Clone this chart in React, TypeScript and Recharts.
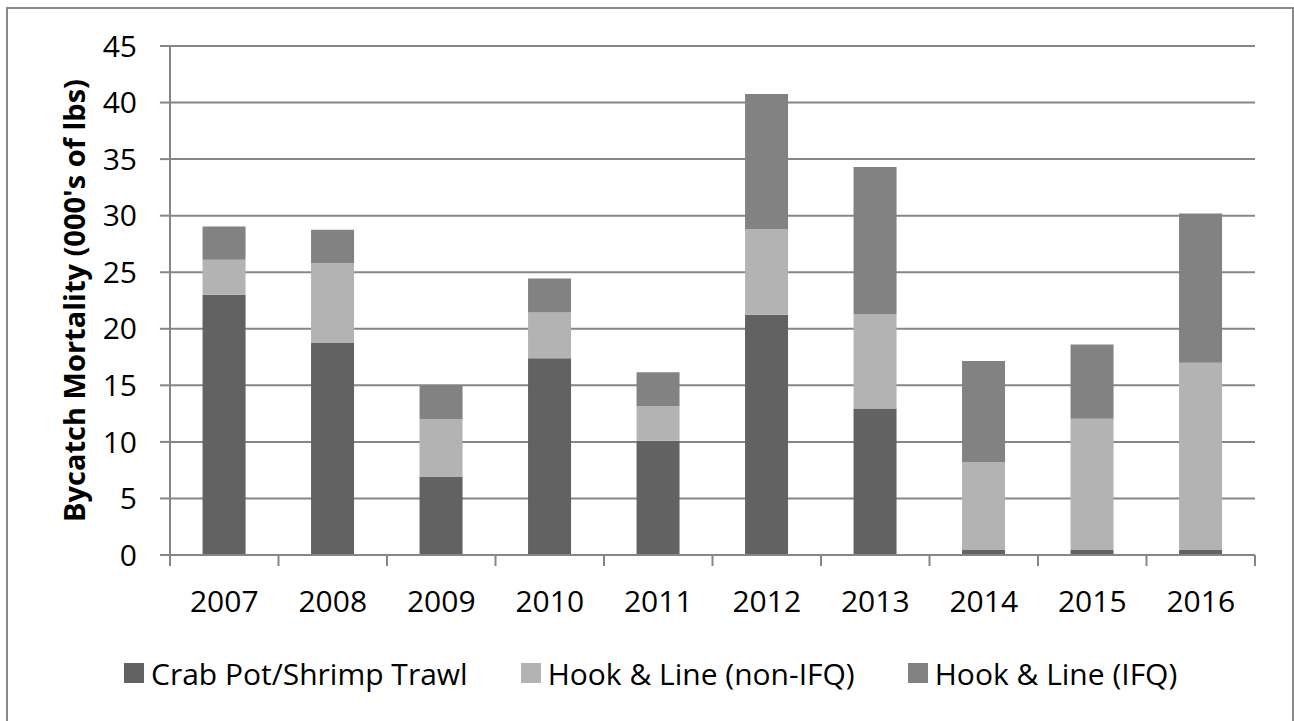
import { Bar, BarChart, CartesianGrid, Legend, XAxis, YAxis } from "recharts";

// Bycatch mortality by gear type, thousands of lbs
const years = ["2007", "2008", "2009", "2010", "2011", "2012", "2013", "2014", "2015", "2016"];
const crabPotShrimpTrawl = [23.0, 18.75, 6.9, 17.4, 10.1, 21.25, 12.95, 0.45, 0.45, 0.45];
const hookLineNonIfq = [3.1, 7.05, 5.1, 4.05, 3.05, 7.55, 8.35, 7.75, 11.6, 16.55];
const hookLineIfq = [2.95, 2.95, 3.0, 3.0, 3.0, 11.95, 13.0, 8.95, 6.55, 13.2];
const yTicks = [0, 5, 10, 15, 20, 25, 30, 35, 40, 45];

const series = [
  { key: "crab", name: "Crab Pot/Shrimp Trawl", color: "#626262" },
  { key: "nonIfq", name: "Hook & Line (non-IFQ)", color: "#b3b3b3" },
  { key: "ifq", name: "Hook & Line (IFQ)", color: "#828282" }
];

const data = years.map((year, i) => ({
  year,
  crab: crabPotShrimpTrawl[i],
  nonIfq: hookLineNonIfq[i],
  ifq: hookLineIfq[i]
}));

const FONT = "'Open Sans', sans-serif";
const AXIS_GRAY = "#868686";
const TEXT_SIZE = 30;

// Excel-style category axis: labels centred, tick marks on the band edges
function YearTick(props: any) {
  const { x, y, payload, index, visibleTicksCount } = props;
  const half = payload?.offset ?? 54.25;
  const isLast = index === visibleTicksCount - 1;
  return (
    <g>
      <line x1={x - half} y1={y} x2={x - half} y2={y + 11} stroke={AXIS_GRAY} strokeWidth={2} />
      {isLast ? (
        <line x1={x + half} y1={y} x2={x + half} y2={y + 11} stroke={AXIS_GRAY} strokeWidth={2} />
      ) : null}
      <text x={x} y={y + 57} textAnchor="middle" fill="#000" fontSize={TEXT_SIZE} fontFamily={FONT}>
        {payload.value}
      </text>
    </g>
  );
}

function AxisTitle(props: any) {
  const { viewBox } = props;
  const cy = viewBox.y + viewBox.height / 2;
  const cx = 73;
  return (
    <text
      x={cx}
      y={cy}
      transform={`rotate(-90, ${cx}, ${cy})`}
      textAnchor="middle"
      dominantBaseline="central"
      fontSize={29}
      fontWeight="bold"
      fontFamily={FONT}
      fill="#000"
    >
      Bycatch Mortality (000's of lbs)
    </text>
  );
}

function LegendRow() {
  return (
    <div style={{ display: "flex", alignItems: "center", height: 40, fontFamily: FONT, fontSize: TEXT_SIZE }}>
      {series.map((s, i) => (
        <div key={s.key} style={{ display: "flex", alignItems: "center", marginRight: i < series.length - 1 ? 53 : 0 }}>
          <span style={{ width: 20, height: 20, background: s.color, marginRight: 7, display: "inline-block" }} />
          <span style={{ color: "#000", whiteSpace: "nowrap" }}>{s.name}</span>
        </div>
      ))}
    </div>
  );
}

export default function App() {
  return (
    <div
      style={{
        position: "fixed",
        left: 0,
        top: 0,
        width: 1294,
        height: 721,
        overflow: "hidden",
        background: "#fff"
      }}
    >
      <div
        style={{
          position: "absolute",
          left: 6,
          top: 7,
          width: 1284,
          height: 760,
          border: "2px solid #898989"
        }}
      />
      <div style={{ position: "absolute", left: 0, top: 0 }}>
        <BarChart
          width={1294}
          height={721}
          data={data}
          margin={{ top: 46, right: 39, left: 0, bottom: 28 }}
          barCategoryGap="30%"
        >
          <CartesianGrid vertical={false} stroke={AXIS_GRAY} strokeWidth={2} />
          <XAxis
            dataKey="year"
            height={98}
            tickLine={false}
            tickSize={0}
            tickMargin={0}
            axisLine={{ stroke: AXIS_GRAY, strokeWidth: 2 }}
            tick={<YearTick />}
            interval={0}
          />
          <YAxis
            width={170}
            domain={[0, 45]}
            ticks={yTicks}
            interval={0}
            tickSize={10}
            tickMargin={23}
            tickLine={{ stroke: AXIS_GRAY, strokeWidth: 2 }}
            axisLine={{ stroke: AXIS_GRAY, strokeWidth: 2 }}
            tick={{ fill: "#000", fontSize: TEXT_SIZE, fontFamily: FONT }}
            label={<AxisTitle />}
          />
          <Legend
            verticalAlign="bottom"
            content={<LegendRow />}
            wrapperStyle={{ left: 124, width: "auto", height: 40 }}
          />
          {series.map((s) => (
            <Bar key={s.key} dataKey={s.key} name={s.name} stackId="gear" fill={s.color} isAnimationActive={false} />
          ))}
        </BarChart>
      </div>
    </div>
  );
}
